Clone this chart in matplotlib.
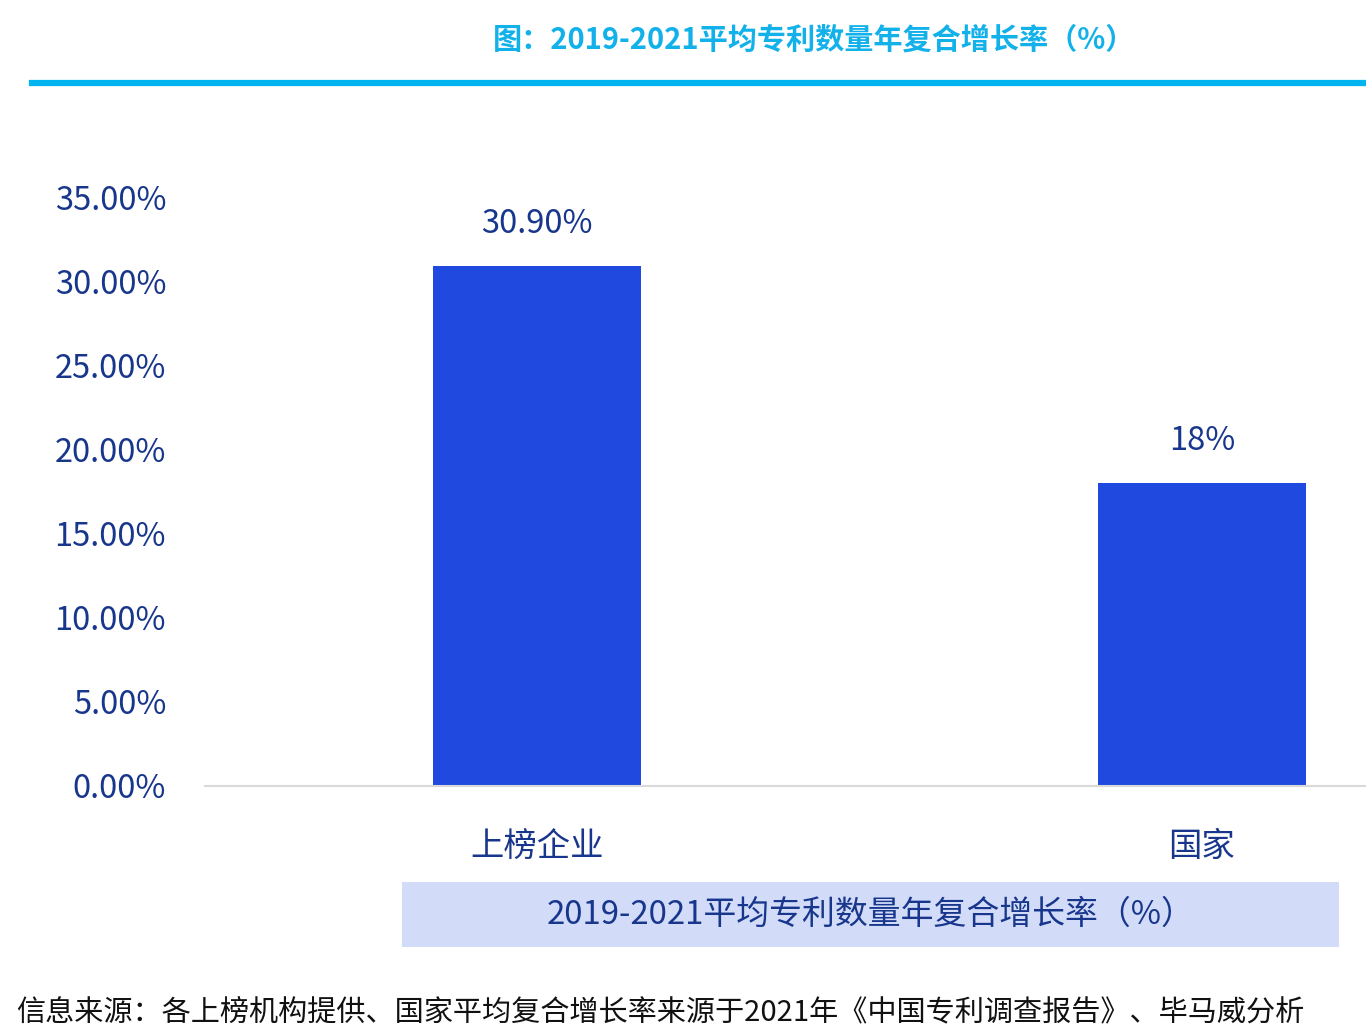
import matplotlib
matplotlib.use('Agg')
import matplotlib.pyplot as plt
from matplotlib.patches import Rectangle
from matplotlib.ticker import FuncFormatter

plt.rcParams['font.family'] = ['Noto Sans CJK SC', 'DejaVu Sans']

# data
categories = ['上榜企业', '国家']
values = [30.90, 18.0]
value_labels = ['30.90%', '18%']
title = '图：2019-2021平均专利数量年复合增长率（%）'
legend_text = '2019-2021平均专利数量年复合增长率（%）'
source = '信息来源：各上榜机构提供、国家平均复合增长率来源于2021年《中国专利调查报告》、毕马威分析'

navy = '#17368c'
bar_color = '#2049e0'

W, H = 1366, 1030
fig = plt.figure(figsize=(W / 100, H / 100), dpi=100)

# axes spans x 205..1366 px, y 197..786 px
ax = fig.add_axes([205 / W, (H - 786) / H, (W - 205) / W, (786 - 197) / H])
x = list(range(len(categories)))
ax.bar(x, values, width=0.313, color=bar_color, zorder=2)
ax.set_xlim(-0.499, 1.2466)
ax.set_ylim(0, 35)
ax.set_yticks([0, 5, 10, 15, 20, 25, 30, 35])
ax.yaxis.set_major_formatter(FuncFormatter(lambda v, p: f'{v:.2f}%'))
ax.set_xticks(x)
ax.set_xticklabels(categories)
ax.tick_params(axis='y', length=0, pad=28, labelsize=23.5, labelcolor=navy)
ax.tick_params(axis='x', length=0, pad=31, labelsize=24, labelcolor=navy)
for s in ['top', 'right', 'left']:
    ax.spines[s].set_visible(False)
ax.spines['bottom'].set_color('#d9d9d9')
ax.spines['bottom'].set_linewidth(1.5)

for xi, v, lab in zip(x, values, value_labels):
    ax.annotate(lab, (xi, v), xytext=(0, 30), textcoords='offset points',
                ha='center', va='center', fontsize=23.5, color=navy)

# title and cyan rule
fig.text(814 / W, 1 - 40 / H, title, ha='center', va='center',
         fontsize=21, fontweight='bold', color='#13b1ea')
fig.add_artist(plt.Line2D([32 / W, 1.0], [1 - 83 / H, 1 - 83 / H],
                          color='#00b4f0', linewidth=4.5))

# legend-like box below
fig.add_artist(Rectangle((402 / W, 1 - 947 / H), (1339 - 402) / W, (947 - 882) / H,
                         facecolor='#d2dcf8', edgecolor='none'))
fig.text(871 / W, 1 - 915 / H, legend_text, ha='center', va='center',
         fontsize=23.7, color=navy)

fig.text(16 / W, 1 - 1013 / H, source, ha='left', va='center',
         fontsize=21, color='#111111')

fig.savefig('out.png', dpi=100)
